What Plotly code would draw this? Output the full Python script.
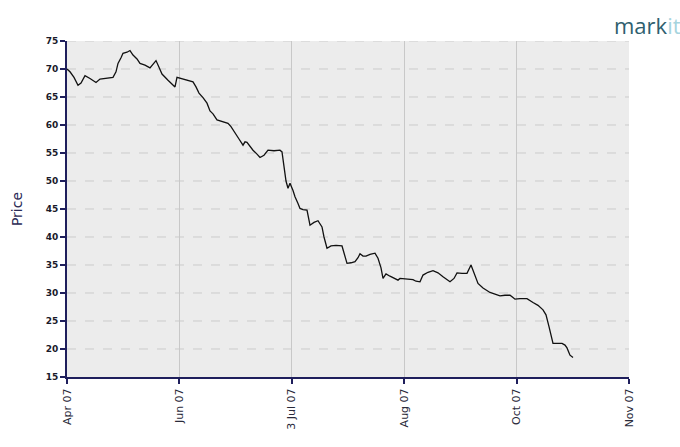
import plotly.graph_objects as go

# Data (x in arbitrary time units, axis spans 0..562; each tick interval = 112.4)
t = [0,3,7,11,14,18,23,29,33,39,46,49,51,54,56,60,63,66,70,73,78,83,86,89,92,95,101,108,110,116,122,126,129,132,136,140,143,146,150,155,161,164,167,172,176,178,180,183,186,190,193,197,201,207,213,215,217,219,221,223,226,228,231,233,236,240,243,247,251,255,257,260,264,269,275,277,280,284,288,291,293,296,299,303,308,311,314,316,319,323,327,331,333,338,343,346,349,353,356,361,366,371,376,380,383,387,390,395,400,404,406,409,411,416,423,428,433,438,443,446,448,453,460,466,471,476,479,482,484,486,491,495,498,500,503,506]
price = [70.0,69.5,68.5,67.1,67.5,68.8,68.3,67.6,68.2,68.3,68.5,69.5,71.0,72.0,72.8,73.0,73.3,72.5,71.8,71.0,70.7,70.2,70.8,71.5,70.3,69.1,68.0,66.8,68.5,68.2,68.0,67.7,66.8,65.7,64.9,63.9,62.5,62.0,60.9,60.6,60.3,59.7,58.8,57.5,56.4,57.0,56.9,56.2,55.5,54.8,54.2,54.6,55.5,55.4,55.5,55.2,52.5,50.0,48.7,49.6,48.3,47.2,46.0,45.1,44.9,44.8,42.1,42.6,42.9,41.8,40.0,38.0,38.4,38.5,38.4,37.0,35.3,35.4,35.6,36.3,37.0,36.6,36.6,36.9,37.1,36.2,34.5,32.6,33.4,33.0,32.6,32.3,32.6,32.5,32.5,32.4,32.1,32.0,33.2,33.7,34.0,33.6,32.9,32.4,32.0,32.6,33.6,33.5,33.5,35.0,34.1,32.6,31.7,30.9,30.1,29.8,29.5,29.6,29.6,29.2,28.9,29.0,29.0,28.3,27.8,27.0,26.1,24.0,22.3,21.0,21.0,21.0,20.7,20.2,18.9,18.5]

tick_labels = ["Apr 07", "Jun 07", "3 Jul 07", "Aug 07", "Oct 07", "Nov 07"]
tick_positions = [0, 112.4, 224.8, 337.2, 449.6, 562]
y_ticks = [15, 20, 25, 30, 35, 40, 45, 50, 55, 60, 65, 70, 75]

navy = "#1f1f5c"
fig = go.Figure()

# dashed horizontal grid
for yv in y_ticks[1:]:
    fig.add_shape(type="line", xref="paper", yref="y", x0=0, x1=1, y0=yv, y1=yv,
                  line=dict(color="#cbcbcb", width=1, dash="dash"), layer="below")

fig.add_trace(go.Scatter(x=t, y=price, mode="lines",
                         line=dict(color="#111111", width=1.3), hoverinfo="skip"))

fig.update_layout(
    width=680, height=447,
    margin=dict(l=67, r=51, t=41, b=70),
    paper_bgcolor="white", plot_bgcolor="#ececec",
    showlegend=False,
    font=dict(family="DejaVu Sans", size=10, color="#333333"),
    xaxis=dict(range=[0, 562], tickmode="array", tickvals=tick_positions, ticktext=tick_labels,
               tickangle=-90, showgrid=True, gridcolor="#c8c8c8", gridwidth=1,
               showline=True, linecolor=navy, linewidth=2, ticks="outside", ticklen=5,
               tickcolor=navy, tickwidth=1.5, zeroline=False,
               tickfont=dict(family="DejaVu Sans", size=11, color="#2a2a3a")),
    yaxis=dict(range=[15, 75], tickmode="array", tickvals=y_ticks, showgrid=False,
               showline=True, linecolor=navy, linewidth=2, ticks="outside", ticklen=5,
               tickcolor=navy, tickwidth=1.5, zeroline=False,
               title=dict(text="Price", font=dict(family="DejaVu Sans", size=14, color="#2a2a55"), standoff=20),
               tickfont=dict(family="DejaVu Sans", size=9, color="#1a1a2a", weight="bold")),
)

fig.add_annotation(xref="paper", yref="paper", x=0.969, y=1.048, xanchor="left", yanchor="middle",
                   text="mark<span style='color:#a6d4de'>it</span>", showarrow=False,
                   font=dict(family="Open Sans", size=22, color="#2f5f6f"))

fig.write_html("out.html", config={"displayModeBar": False},
               post_script="document.body.style.margin='0';")
